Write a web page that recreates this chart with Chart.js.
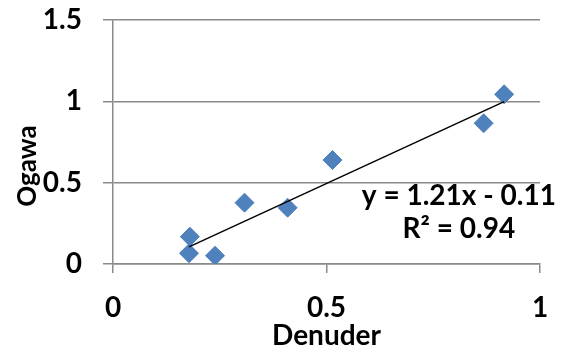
<!DOCTYPE html>
<html>
<head>
<meta charset="utf-8">
<script src="https://cdn.jsdelivr.net/npm/chart.js@4"></script>
<style>
  html, body { margin: 0; padding: 0; background: #fff; }
  #wrap { width: 577px; height: 350px; }
</style>
</head>
<body>
<div id="wrap"><canvas id="chart" width="577" height="350"></canvas></div>
<script>
// 数据：Denuder (x) vs Ogawa (y)
const denuder = [0.178, 0.180, 0.239, 0.308, 0.409, 0.514, 0.868, 0.916];
const ogawa   = [0.066, 0.168, 0.051, 0.377, 0.346, 0.639, 0.865, 1.043];

// 趋势线参数（图上标注）
const slope = 1.21;
const intercept = -0.11;
const rSquared = 0.94;

const xTicks = [0, 0.5, 1];
const yTicks = [0, 0.5, 1, 1.5];

const FONT = 'Lato, "Open Sans", sans-serif';
const GRID = '#8a8a8a';

function initScatterChart() {
    const ctx = document.getElementById('chart');
    if (!ctx) return;

    const points = denuder.map((x, i) => ({ x: x, y: ogawa[i] }));
    const xMin = Math.min(...denuder);
    const xMax = Math.max(...denuder);
    const trend = [
        { x: xMin, y: slope * xMin + intercept },
        { x: xMax, y: slope * xMax + intercept }
    ];

    // 轴标题 Ogawa 和回归方程文字
    const labelsPlugin = {
        id: 'labels',
        afterDraw(chart) {
            const c = chart.ctx;
            const xs = chart.scales.x;
            c.save();
            c.fillStyle = '#000';
            c.font = 'bold 28px ' + FONT;
            c.textAlign = 'center';
            c.textBaseline = 'alphabetic';
            const cx = xs.getPixelForValue(0.81);
            c.fillText('y = ' + slope.toFixed(2) + 'x - ' + Math.abs(intercept).toFixed(2), cx, 205);
            c.fillText('R\u00B2 = ' + rSquared.toFixed(2), cx, 238);

            c.font = 'bold 26px ' + FONT;
            c.translate(30, 166);
            c.rotate(-Math.PI / 2);
            c.fillText('Ogawa', 0, 6);
            c.restore();
        }
    };

    new Chart(ctx, {
        type: 'scatter',
        data: {
            datasets: [
                {
                    label: 'Trend',
                    type: 'line',
                    data: trend,
                    borderColor: '#000',
                    borderWidth: 1.5,
                    pointRadius: 0,
                    fill: false,
                    order: 0
                },
                {
                    label: 'Ogawa',
                    data: points,
                    pointStyle: 'rectRot',
                    pointRadius: 9.5,
                    pointBackgroundColor: '#4F81BD',
                    pointBorderColor: '#4F81BD',
                    pointBorderWidth: 1,
                    order: 1
                }
            ]
        },
        options: {
            responsive: false,
            animation: false,
            events: [],
            layout: {
                padding: { left: 0, top: 20, right: 37, bottom: 0 }
            },
            plugins: {
                legend: { display: false },
                tooltip: { enabled: false }
            },
            scales: {
                x: {
                    type: 'linear',
                    min: 0,
                    max: 1,
                    afterBuildTicks: (scale) => { scale.ticks = xTicks.map(v => ({ value: v })); },
                    afterFit: (scale) => { scale.height = 86; },
                    grid: {
                        drawOnChartArea: false,
                        drawTicks: true,
                        tickLength: 9,
                        color: GRID,
                        lineWidth: 1.5
                    },
                    border: { display: true, color: GRID, width: 1.5 },
                    ticks: {
                        color: '#000',
                        padding: 18,
                        maxRotation: 0,
                        callback: (v) => String(v),
                        font: { family: FONT, size: 28, weight: 'bold' }
                    },
                    title: {
                        display: true,
                        text: 'Denuder',
                        color: '#000',
                        padding: { top: 0, bottom: -3 },
                        font: { family: FONT, size: 28, weight: 'bold' }
                    }
                },
                y: {
                    type: 'linear',
                    min: 0,
                    max: 1.5,
                    afterBuildTicks: (scale) => { scale.ticks = yTicks.map(v => ({ value: v })); },
                    afterFit: (scale) => {
                        scale.width = 113;
                        // 不让标签留白把绘图区往下推
                        scale.paddingTop = 0;
                        scale.paddingBottom = 0;
                    },
                    grid: {
                        drawOnChartArea: true,
                        drawTicks: true,
                        tickLength: 10,
                        color: GRID,
                        lineWidth: 1.5
                    },
                    border: { display: true, color: GRID, width: 1.5 },
                    ticks: {
                        color: '#000',
                        padding: 21,
                        callback: (v) => String(v),
                        font: { family: FONT, size: 28, weight: 'bold' }
                    }
                }
            }
        },
        plugins: [labelsPlugin]
    });
}

initScatterChart();
</script>
</body>
</html>
